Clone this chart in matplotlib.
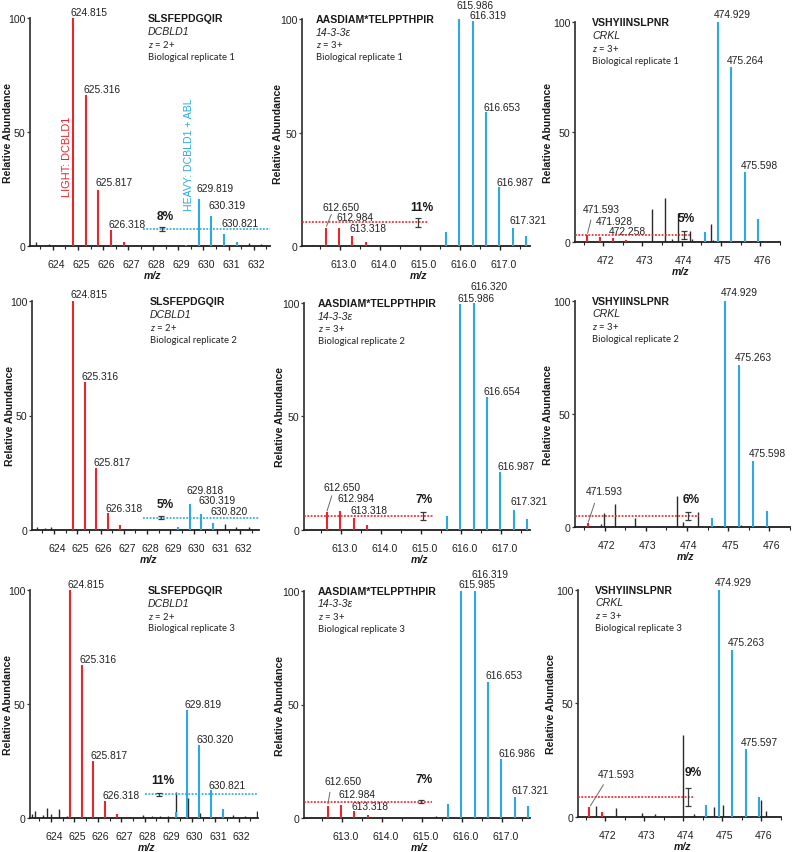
import matplotlib
matplotlib.use('Agg')
import matplotlib.pyplot as plt
from matplotlib.transforms import ScaledTranslation

plt.rcParams['font.family'] = ['Liberation Sans', 'DejaVu Sans']
plt.rcParams['mathtext.fontset'] = 'custom'
plt.rcParams['mathtext.it'] = 'Lato:italic'
plt.rcParams['mathtext.rm'] = 'Lato'

W, H = 793, 853
RED = '#E8262B'
BLUE = '#2AAAE1'
BLACK = '#2a2a2a'

# ---------------- text / categories ----------------
peptides = ['SLSFEPDGQIR', 'AASDIAM*TELPPTHPIR', 'VSHYIINSLPNR']
proteins = ['DCBLD1', '14-3-3ε', 'CRKL']
charges = ['2+', '3+', '3+']
replicates = ['Biological replicate 1', 'Biological replicate 2', 'Biological replicate 3']
col_xticks = [[624, 625, 626, 627, 628, 629, 630, 631, 632],
              [613.0, 614.0, 615.0, 616.0, 617.0],
              [472, 473, 474, 475, 476]]
col_xticklabels = [['624', '625', '626', '627', '628', '629', '630', '631', '632'],
                   ['613.0', '614.0', '615.0', '616.0', '617.0'],
                   ['472', '473', '474', '475', '476']]
y_ticks = [0, 50, 100]

# ---------------- SLSFEPDGQIR (DCBLD1) ----------------
p11_light_mz = [624.815, 625.316, 625.817, 626.318, 626.819]
p11_light_int = [100, 66.2, 24.7, 7.0, 1.6]
p11_heavy_mz = [629.318, 629.819, 630.319, 630.821, 631.322]
p11_heavy_int = [0.6, 20.6, 13.0, 5.3, 1.6]
p11_other_mz = [623.33, 623.86, 624.28, 627.63, 628.8, 631.8, 632.3]
p11_other_int = [1.6, 0.8, 0.5, 0.3, 0.3, 1.5, 0.8]
p11_labeled = [624.815, 625.316, 625.817, 626.318, 629.819, 630.319, 630.821]
p11_ratio, p11_level, p11_err = 8, 7.5, 0.8

p21_light_mz = [624.815, 625.316, 625.817, 626.318, 626.819]
p21_light_int = [100, 64.8, 26.9, 7.2, 1.9]
p21_heavy_mz = [629.318, 629.818, 630.319, 630.820]
p21_heavy_int = [1.0, 11.1, 6.9, 2.9]
p21_other_mz = [623.29, 623.62, 623.86, 631.33, 631.83, 632.37]
p21_other_int = [1.0, 0.7, 1.0, 2.5, 1.0, 1.0]
p21_labeled = [624.815, 625.316, 625.817, 626.318, 629.818, 630.319, 630.820]
p21_ratio, p21_level, p21_err = 5, 5.3, 0.7

p31_light_mz = [624.815, 625.316, 625.817, 626.318, 626.819]
p31_light_int = [100, 67.2, 25.3, 7.4, 1.8]
p31_heavy_mz = [629.318, 629.819, 630.320, 630.821, 631.322]
p31_heavy_int = [2.6, 47.6, 32.3, 12.4, 4.1]
p31_other_mz = [623.18, 623.32, 623.68, 623.85, 624.0, 624.36, 624.67, 627.94, 628.29,
                628.64, 629.0, 629.35, 629.85, 630.35, 631.77, 632.26, 632.79]
p31_other_int = [2.0, 3.3, 1.5, 4.5, 2.0, 4.0, 1.0, 1.5, 1.0, 0.8, 1.0, 11.7, 8.8, 2.5,
                 1.5, 1.0, 3.4]
p31_labeled = [624.815, 625.316, 625.817, 626.318, 629.819, 630.320, 630.821]
p31_ratio, p31_level, p31_err = 11, 10.5, 0.7

# ---------------- AASDIAM*TELPPTHPIR (14-3-3e) ----------------
p12_light_mz = [612.650, 612.984, 613.318, 613.652]
p12_light_int = [7.9, 8.2, 4.7, 2.1]
p12_heavy_mz = [615.652, 615.986, 616.319, 616.653, 616.987, 617.321, 617.655]
p12_heavy_int = [6.3, 100, 99, 58.9, 26.1, 8.2, 4.4]
p12_other_mz = [612.3, 613.9, 614.45, 614.75, 615.3]
p12_other_int = [0.4, 0.5, 0.4, 0.5, 0.4]
p12_labeled = [615.986, 616.319, 616.653, 616.987, 617.321, 612.650, 612.984, 613.318]
p12_ratio, p12_level, p12_err = 11, 10.6, 1.9

p22_light_mz = [612.650, 612.984, 613.318, 613.652]
p22_light_int = [7.9, 8.4, 5.0, 2.1]
p22_heavy_mz = [615.652, 615.986, 616.320, 616.654, 616.987, 617.321, 617.655]
p22_heavy_int = [6.2, 99.6, 100, 58.4, 25.6, 8.5, 4.8]
p22_other_mz = [612.3, 614.5, 614.8]
p22_other_int = [0.4, 0.4, 0.5]
p22_labeled = [616.320, 615.986, 616.654, 616.987, 617.321, 612.650, 612.984, 613.318]
p22_ratio, p22_level, p22_err = 7, 6.2, 1.8

p32_light_mz = [612.650, 612.984, 613.318, 613.652]
p32_light_int = [5.6, 5.9, 3.4, 1.5]
p32_heavy_mz = [615.652, 615.985, 616.319, 616.653, 616.986, 617.321, 617.654]
p32_heavy_int = [6.3, 100, 100, 60, 26, 9.5, 5.6]
p32_other_mz = [614.6, 614.78, 615.35]
p32_other_int = [0.5, 0.6, 0.8]
p32_labeled = [616.319, 615.985, 616.653, 616.986, 617.321, 612.650, 612.984, 613.318]
p32_ratio, p32_level, p32_err = 7, 7.3, 0.6

# ---------------- VSHYIINSLPNR (CRKL) ----------------
p13_light_mz = [471.593, 471.928, 472.258, 472.590]
p13_light_int = [3.3, 2.3, 1.8, 1.2]
p13_heavy_mz = [474.595, 474.929, 475.264, 475.598, 475.932]
p13_heavy_int = [4.8, 100, 79.7, 31.9, 10.5]
p13_other_mz = [471.72, 473.254, 473.564, 473.75, 473.904, 474.206, 474.25, 474.56, 474.754, 474.80]
p13_other_int = [0.8, 15.0, 20.0, 1.5, 13.3, 5.3, 1.5, 0.8, 8.3, 1.2]
p13_labeled = [474.929, 475.264, 475.598, 471.593, 471.928, 472.258]
p13_ratio, p13_level, p13_err = 5, 3.5, 1.8

p23_light_mz = [471.593]
p23_light_int = [1.8]
p23_heavy_mz = [474.595, 474.929, 475.263, 475.598, 475.932]
p23_heavy_int = [4.1, 100, 71.6, 29.4, 7.0]
p23_other_mz = [471.79, 471.91, 471.996, 472.257, 472.747, 473.253, 473.53, 473.751, 473.909,
                474.257, 474.763, 475.308]
p23_other_int = [0.7, 1.5, 6.2, 10.3, 4.1, 0.5, 0.5, 14.0, 2.5, 6.9, 0.7, 1.2]
p23_labeled = [474.929, 475.263, 475.598, 471.593]
p23_ratio, p23_level, p23_err = 6, 4.9, 1.8

p33_light_mz = [471.593, 471.928]
p33_light_int = [4.1, 1.9]
p33_heavy_mz = [474.595, 474.929, 475.263, 475.597, 475.931]
p33_heavy_int = [5.1, 100, 73.6, 29.8, 8.5]
p33_other_mz = [471.768, 472.269, 472.945, 473.288, 474.004, 474.282, 474.791, 475.014, 475.49,
                475.992, 476.112]
p33_other_int = [4.6, 4.0, 1.6, 1.0, 36.0, 1.2, 4.3, 5.1, 0.5, 7.3, 2.3]
p33_labeled = [474.929, 475.263, 475.597, 471.593]
p33_ratio, p33_level, p33_err = 9, 8.8, 4.0

# ---------------- layout (positions in figure pixels / data units) ----------------
layout = {
    (0, 0): dict(box=(30, 270, 19, 247), xlim=(623.09, 632.65),
                 lab_y=[102.7, 69, 27.9, 9.5, 25.4, 18.1, 10.2],
                 line=(627.6, None), errx=628.33, pct=(628.47, 13.3), cap=2.5),
    (1, 0): dict(box=(32, 259, 302.3, 530.7), xlim=(623.06, 632.8),
                 lab_y=[103, 67.5, 29.5, 9.6, 17.5, 12.8, 8.2],
                 line=(627.83, None), errx=628.6, pct=(628.76, 11.2), cap=2.5),
    (2, 0): dict(box=(30, 258, 591, 819.3), xlim=(623.11, 632.83),
                 lab_y=[102.6, 69.8, 27.7, 10.2, 50, 34.7, 14.6],
                 line=(628.0, None), errx=628.6, pct=(628.76, 16.9), cap=2.5),
    (0, 1): dict(box=(302, 530, 20, 247.3), xlim=(612.06, 617.75),
                 lab_y=[106, 101.8, 61.5, 28.3, 11.5, 17.4, 13.0, 7.9],
                 line=(None, 615.2), errx=614.96, pct=(615.05, 17.5), cap=2.5,
                 leader=(612.650, (2.3, 2.3), (5.7, 14))),
    (1, 1): dict(box=(304, 530, 304, 530.7), xlim=(612.08, 617.73),
                 lab_y=[107.4, 102.4, 61, 28.2, 12.6, 18.7, 14.0, 8.7],
                 line=(None, 615.3), errx=615.05, pct=(615.08, 13.5), cap=2.5,
                 leader=(612.650, (0, 0.8), (5, 16))),
    (2, 1): dict(box=(304, 530, 591.7, 819.3), xlim=(612.06, 617.7),
                 lab_y=[107.3, 103, 63, 28.7, 12.4, 16.5, 10.7, 5.3],
                 line=(None, 615.25), errx=614.98, pct=(615.06, 17.3), cap=2.5,
                 leader=(612.650, (0, 1.7), (2.3, 13.3))),
    (0, 2): dict(box=(575, 780, 23.3, 243.3), xlim=(471.283, 476.17),
                 lab_y=[103.8, 83, 35.3, 15.1, 9.5, 5.0],
                 line=(None, 474.22), errx=474.06, pct=(474.12, 11.0), cap=2.5,
                 leader=(471.593, (0, 1.7), (3.7, 15)), lab_dx={471.593: -4.7}),
    (1, 2): dict(box=(575, 790, 301.7, 528.3), xlim=(471.28, 476.38),
                 lab_y=[104, 75.3, 33, 15.9],
                 line=(None, 474.28), errx=474.03, pct=(474.1, 12.5), cap=2.5,
                 leader=(471.593, (0, 1), (6.7, 20)), lab_dx={471.593: -1.7}),
    (2, 2): dict(box=(578, 780.7, 590.7, 817.7), xlim=(471.30, 476.14),
                 lab_y=[103.2, 76.8, 33, 19],
                 line=(None, 474.27), errx=474.13, pct=(474.25, 19.5), cap=2.5,
                 leader=(471.593, (0, 1.7), (14, 22.7)), lab_dx={471.593: 8.3}),
}
text_dx = [118, 14, 17]           # text block offset from y-axis (px)
ylabel_dx = [22, 24, 27]          # Relative Abundance offset left of y-axis (px)
tick_shift = [3, 4, 2]            # x tick label shift (px)
label_dx_default = [-2.7, -3.0, -4.2]

panels = {
    (0, 0): (p11_light_mz, p11_light_int, p11_heavy_mz, p11_heavy_int, p11_other_mz, p11_other_int, p11_labeled, p11_ratio, p11_level, p11_err),
    (1, 0): (p21_light_mz, p21_light_int, p21_heavy_mz, p21_heavy_int, p21_other_mz, p21_other_int, p21_labeled, p21_ratio, p21_level, p21_err),
    (2, 0): (p31_light_mz, p31_light_int, p31_heavy_mz, p31_heavy_int, p31_other_mz, p31_other_int, p31_labeled, p31_ratio, p31_level, p31_err),
    (0, 1): (p12_light_mz, p12_light_int, p12_heavy_mz, p12_heavy_int, p12_other_mz, p12_other_int, p12_labeled, p12_ratio, p12_level, p12_err),
    (1, 1): (p22_light_mz, p22_light_int, p22_heavy_mz, p22_heavy_int, p22_other_mz, p22_other_int, p22_labeled, p22_ratio, p22_level, p22_err),
    (2, 1): (p32_light_mz, p32_light_int, p32_heavy_mz, p32_heavy_int, p32_other_mz, p32_other_int, p32_labeled, p32_ratio, p32_level, p32_err),
    (0, 2): (p13_light_mz, p13_light_int, p13_heavy_mz, p13_heavy_int, p13_other_mz, p13_other_int, p13_labeled, p13_ratio, p13_level, p13_err),
    (1, 2): (p23_light_mz, p23_light_int, p23_heavy_mz, p23_heavy_int, p23_other_mz, p23_other_int, p23_labeled, p23_ratio, p23_level, p23_err),
    (2, 2): (p33_light_mz, p33_light_int, p33_heavy_mz, p33_heavy_int, p33_other_mz, p33_other_int, p33_labeled, p33_ratio, p33_level, p33_err),
}

fig = plt.figure(figsize=(W / 100, H / 100), dpi=100)
PT = 0.72  # points per pixel


def fx(px):
    return px / W


def fy(py):
    return 1 - py / H


for (r, c), (lmz, lint, hmz, hint, omz, oint, labeled, ratio, level, err) in panels.items():
    L = layout[(r, c)]
    left, right, ytop, ybot = L['box']
    ax = fig.add_axes([fx(left), fy(ybot), (right - left) / W, (ybot - ytop) / H])
    ax.set_xlim(*L['xlim'])
    ax.set_ylim(0, 100)
    ax.patch.set_alpha(0)
    for s in ['top', 'right']:
        ax.spines[s].set_visible(False)
    ax.spines['left'].set_color('#3c3c3c')
    ax.spines['bottom'].set_color('#1e1e1e')
    ax.spines['left'].set_linewidth(1.3)
    ax.spines['bottom'].set_linewidth(1.3)

    # peaks
    ax.vlines(omz, 0, oint, colors=BLACK, lw=1.0, zorder=2)
    ax.vlines(lmz, 0, lint, colors=RED, lw=1.5, zorder=3)
    ax.vlines(hmz, 0, hint, colors=BLUE, lw=1.5, zorder=3)

    # ticks
    ax.set_yticks(y_ticks)
    ax.set_yticklabels([str(t) for t in y_ticks], fontsize=7.6, color='#222')
    ax.tick_params(axis='y', length=2, width=0.9, pad=1.5, color='#333')
    ax.set_xticks(col_xticks[c])
    ax.set_xticklabels(col_xticklabels[c], fontsize=7.6, color='#222')
    step = col_xticks[c][1] - col_xticks[c][0]
    minors = [t + step / 2 for t in col_xticks[c]] + [col_xticks[c][0] - step / 2]
    ax.set_xticks(minors, minor=True)
    ax.tick_params(axis='x', which='major', length=3, width=1.0, pad=6.5, color='#222')
    ax.tick_params(axis='x', which='minor', length=2, width=0.8, color='#222')
    for lab in ax.get_xticklabels():
        lab.set_transform(lab.get_transform() + ScaledTranslation(tick_shift[c] / 100, 0, fig.dpi_scale_trans))

    # peak labels
    allmz = list(lmz) + list(hmz)
    allint = list(lint) + list(hint)
    dxmap = L.get('lab_dx', {})
    for mz, ly in zip(labeled, L['lab_y']):
        dx = dxmap.get(mz, label_dx_default[c])
        ax.annotate(f'{mz:.3f}', xy=(mz, ly), xytext=(dx * PT, 0), textcoords='offset points',
                    ha='left', va='center', fontsize=7.4, color='#222', annotation_clip=False)

    # leader line
    if 'leader' in L:
        lm, (sx, sy), (ex, ey) = L['leader']
        top = allint[allmz.index(lm)]
        ax.annotate('', xy=(lm, top), xytext=(ex * PT, ey * PT), textcoords='offset points',
                    arrowprops=dict(arrowstyle='-', color='#6a6a6a', lw=0.7,
                                    shrinkA=0, shrinkB=max(sy, 0.5) * PT))

    # ratio line, error bar, percent
    lc = BLUE if c == 0 else RED
    x0, x1 = L['line']
    x0 = L['xlim'][0] if x0 is None else x0
    x1 = L['xlim'][1] if x1 is None else x1
    ax.hlines(level, x0, x1, colors=lc, linestyles=(0, (1.1, 0.9)), lw=1.2, zorder=4)
    ax.errorbar([L['errx']], [level], yerr=[err], fmt='none', ecolor='#3a3a3a',
                elinewidth=0.9, capsize=L['cap'], capthick=0.9, zorder=5)
    ax.text(L['pct'][0], L['pct'][1], f'{ratio}%', ha='center', va='center',
            fontsize=8.6, fontweight='bold', color='#1a1a1a')

    if (r, c) == (0, 0):
        ax.text(624.55, 39.6, 'LIGHT: DCBLD1', rotation=90, color=RED, ha='center',
                va='center', fontsize=7.9)
        ax.text(629.44, 40.4, 'HEAVY: DCBLD1 + ABL', rotation=90, color=BLUE, ha='center',
                va='center', fontsize=7.6)

    # text block
    tx = left + text_dx[c]
    fig.text(fx(tx), fy(ytop), peptides[c], fontsize=7.6, fontweight='bold', color='#1a1a1a',
             ha='left', va='center')
    fig.text(fx(tx), fy(ytop + 12.6), proteins[c], fontsize=7.6, style='italic', color='#222',
             ha='left', va='center')
    fig.text(fx(tx), fy(ytop + 25.0), r'$z$ = ' + charges[c], fontsize=6.8, family='Lato',
             color='#222', ha='left', va='center')
    fig.text(fx(tx), fy(ytop + 38.0), replicates[r], fontsize=6.8, family='Lato',
             color='#222', ha='left', va='center')

    # axis labels
    fig.text(fx(left - ylabel_dx[c]), fy((ytop + ybot) / 2), 'Relative Abundance', rotation=90,
             fontsize=7.6, fontweight='bold', color='#1a1a1a', ha='center', va='center')
    fig.text(fx((left + right) / 2 + 3), fy(ybot + 29), 'm/z', fontsize=7.6, fontweight='bold',
             style='italic', color='#1a1a1a', ha='center', va='center')

fig.savefig('out.png', dpi=100, facecolor='white')
